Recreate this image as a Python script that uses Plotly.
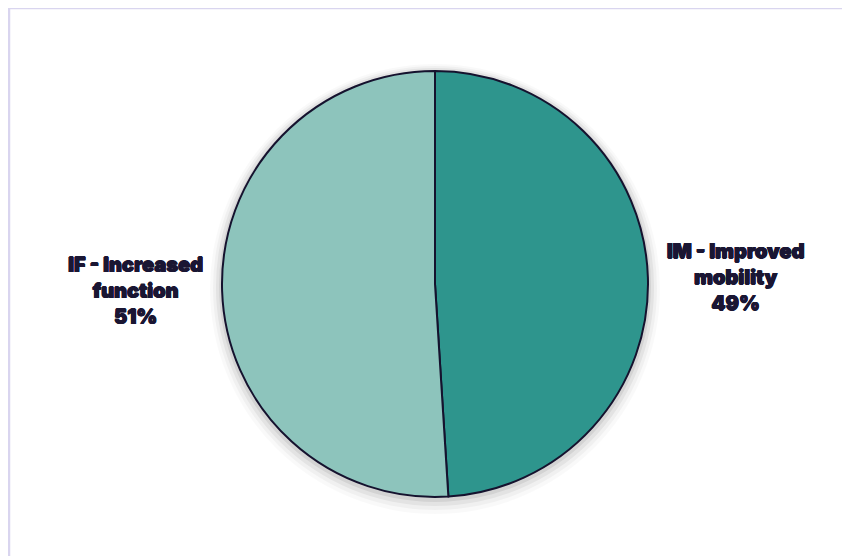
import plotly.graph_objects as go

labels = ["IM - Improved<br>mobility", "IF - Increased<br>function"]
values = [49, 51]
colors = ["#2e958d", "#8dc4bc"]

W, H = 850, 556
# page body has an 8px margin; pie centre in paper pixels
cx, cy, r = 427, 276, 213

fig = go.Figure()

# soft shadow layers behind the pie
for grow, dy, op in [(12, 5, 0.025), (9, 4, 0.035), (6, 3, 0.05), (3, 2, 0.07)]:
    rr = r + grow
    fig.add_trace(go.Pie(
        values=[1], labels=["s"], marker=dict(colors=[f"rgba(0,0,0,{op})"], line=dict(width=0)),
        domain=dict(x=[(cx - rr) / W, (cx + rr) / W], y=[(H - cy - dy - rr) / H, (H - cy - dy + rr) / H]),
        textinfo="none", hoverinfo="skip", showlegend=False, sort=False,
    ))

ink = "#1a1633"
fig.add_trace(go.Pie(
    labels=labels,
    values=values,
    sort=False,
    direction="clockwise",
    rotation=0,
    marker=dict(colors=colors, line=dict(color="#15122e", width=2)),
    textposition="outside",
    texttemplate="%{label}<br>%{percent:.0%}",
    textfont=dict(family="Inter", size=20, color=ink, weight=900,
                  shadow=f"0.6px 0 0 {ink}, -0.6px 0 0 {ink}, 0 0.4px 0 {ink}, 0 -0.3px 0 {ink}"),
    domain=dict(x=[(cx - r) / W, (cx + r) / W], y=[(H - cy - r) / H, (H - cy + r) / H]),
    showlegend=False,
    automargin=False,
))

fig.update_layout(
    width=W, height=H,
    margin=dict(l=0, r=0, t=0, b=0),
    paper_bgcolor="white",
    plot_bgcolor="white",
    shapes=[
        dict(type="line", xref="paper", yref="paper", x0=1 / W, x1=1 / W, y0=0, y1=1,
             line=dict(color="#d9d5ef", width=2.5)),
        dict(type="line", xref="paper", yref="paper", x0=0, x1=1, y0=(H - 0.5) / H, y1=(H - 0.5) / H,
             line=dict(color="#d9d5ef", width=1.5)),
    ],
)

fig.write_html("out.html")
